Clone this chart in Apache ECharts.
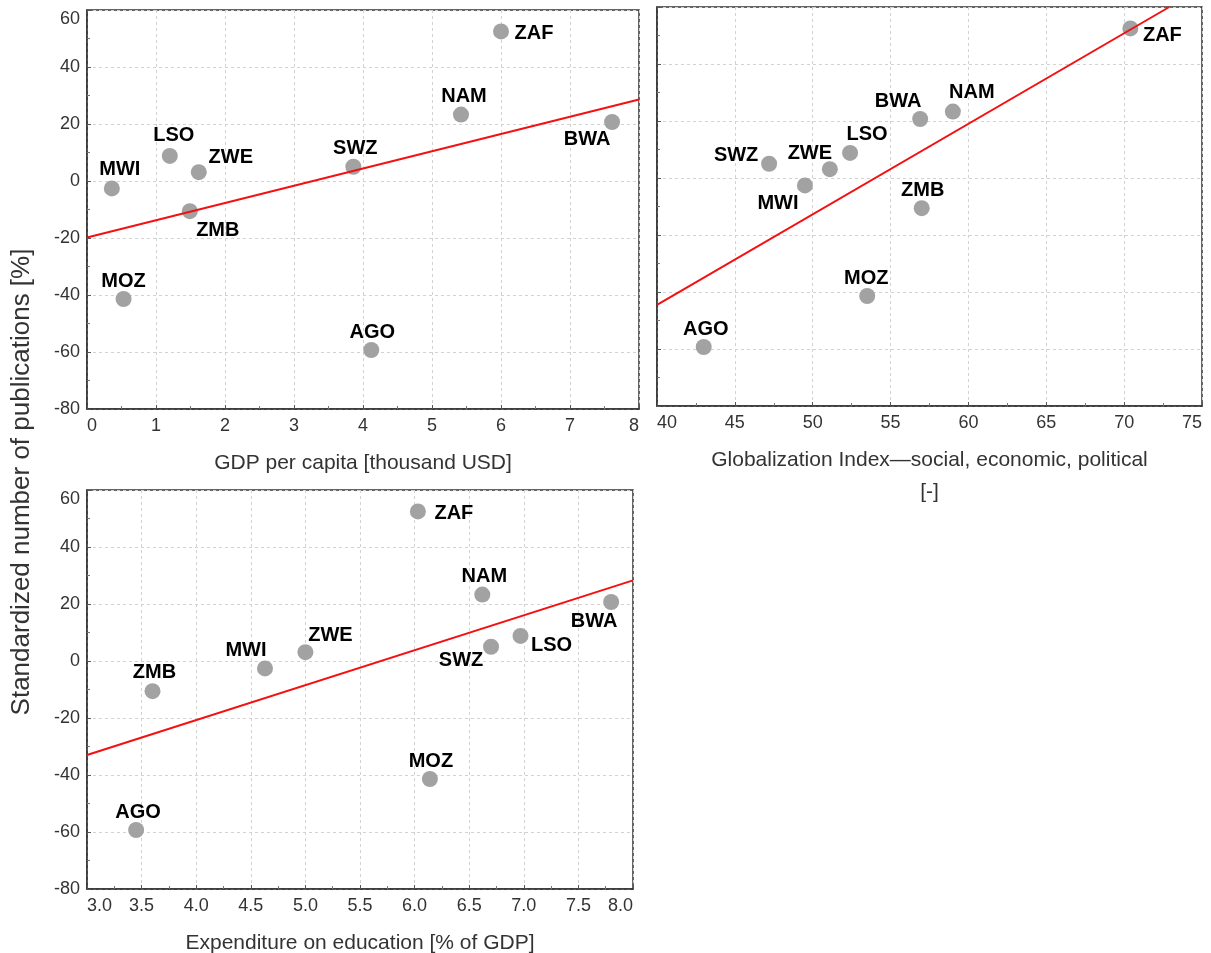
<!DOCTYPE html>
<html>
<head>
<meta charset="utf-8">
<title>Publications vs. development indicators</title>
<script src="https://cdn.jsdelivr.net/npm/echarts@6/dist/echarts.min.js"></script>
<style>
  html, body { margin: 0; padding: 0; background: #fff; }
  #chart { width: 1211px; height: 953px; }
</style>
</head>
<body>
<div id="chart"></div>
<script>
// data
const countries = ['ZAF', 'NAM', 'BWA', 'LSO', 'SWZ', 'ZWE', 'MWI', 'ZMB', 'MOZ', 'AGO']
const publications = [52.5, 23.3, 20.7, 8.8, 5.0, 3.1, -2.6, -10.6, -41.4, -59.3] // standardized [%]
const gdpPerCapita = [6.0, 5.42, 7.61, 1.2, 3.86, 1.62, 0.36, 1.49, 0.53, 4.12] // thousand USD
const globalization = [70.4, 59.0, 56.9, 52.4, 47.2, 51.1, 49.5, 57.0, 53.5, 43.0]
const eduExpenditure = [6.03, 6.62, 7.8, 6.97, 6.7, 5.0, 4.63, 3.6, 6.14, 3.45] // % of GDP

// regression lines (end points)
const fitGdp = [[0, -19.8], [8, 28.6]]
const fitGlob = [[40, -44.5], [72.9, 60]]
const fitEdu = [[3, -33], [8, 28.3]]

// label offsets around each point (px), per panel
const labelOffsetGdp = {
  ZAF: [33, 2], NAM: [3, -18], BWA: [-25, 17], SWZ: [2, -18], LSO: [4, -20],
  ZWE: [32, -15], MWI: [8, -19], ZMB: [28, 19], MOZ: [0, -18], AGO: [1, -18]
}
const labelOffsetGlob = {
  ZAF: [32, 7], NAM: [19, -19], BWA: [-22, -18], LSO: [17, -18], SWZ: [-33, -8],
  ZWE: [-20, -16], MWI: [-27, 18], ZMB: [1, -18], MOZ: [-1, -18], AGO: [2, -18]
}
const labelOffsetEdu = {
  ZAF: [36, 2], NAM: [2, -18], BWA: [-17, 19], LSO: [31, 10], SWZ: [-30, 14],
  ZWE: [25, -17], MWI: [-19, -18], ZMB: [2, -19], MOZ: [1, -18], AGO: [2, -18]
}

const FONT = '"Liberation Sans", Arial, sans-serif'
const TEXT = '#333'

const chart = echarts.init(document.getElementById('chart'), null, { renderer: 'canvas' })

function pointData(xs, offsets) {
  return countries.map((c, i) => ({
    name: c,
    value: [xs[i], publications[i]],
    label: { offset: offsets[c] }
  }))
}

function xAxisFor(idx, min, max, interval, name, fmt) {
  return {
    gridIndex: idx,
    type: 'value',
    min: min,
    max: max,
    interval: interval,
    name: name,
    nameLocation: 'middle',
    nameGap: 38,
    nameTextStyle: { color: TEXT, fontSize: 21, fontFamily: FONT, lineHeight: 32 },
    axisLine: { show: true, onZero: false, lineStyle: { color: '#333', width: 1.5 } },
    axisTick: { show: true, inside: true, length: 4, lineStyle: { color: '#555' } },
    minorTick: { show: true, splitNumber: 2, length: 3, lineStyle: { color: '#777' } },
    splitLine: { show: true, lineStyle: { color: '#d2d2d2', type: [3, 3], width: 1 } },
    axisLabel: {
      color: TEXT, fontSize: 18, fontFamily: FONT, margin: 8,
      alignMinLabel: 'left', alignMaxLabel: 'right',
      formatter: fmt
    }
  }
}

function yAxisFor(idx, showLabels) {
  return {
    gridIndex: idx,
    type: 'value',
    min: -80,
    max: 60,
    interval: 20,
    axisLine: { show: true, onZero: false, lineStyle: { color: '#333', width: 1.5 } },
    axisTick: { show: true, inside: true, length: 4, lineStyle: { color: '#555' } },
    minorTick: { show: true, splitNumber: 2, length: 3, lineStyle: { color: '#777' } },
    splitLine: { show: true, lineStyle: { color: '#d2d2d2', type: [3, 3], width: 1 } },
    axisLabel: {
      show: showLabels, color: TEXT, fontSize: 18, fontFamily: FONT, margin: 7,
      verticalAlignMaxLabel: 'top'
    }
  }
}

function scatterSeries(idx, xs, offsets) {
  return {
    type: 'scatter',
    xAxisIndex: idx,
    yAxisIndex: idx,
    symbolSize: 16,
    itemStyle: { color: '#a2a2a2', opacity: 1 },
    z: 2,
    label: {
      show: true,
      position: 'inside',
      formatter: '{b}',
      color: '#000',
      fontWeight: 'bold',
      fontSize: 20,
      fontFamily: FONT
    },
    data: pointData(xs, offsets)
  }
}

function fitSeries(idx, pts) {
  return {
    type: 'line',
    xAxisIndex: idx,
    yAxisIndex: idx,
    data: pts,
    symbol: 'none',
    silent: true,
    clip: true,
    z: 3,
    lineStyle: { color: '#f41010', width: 2 }
  }
}

const gridBase = { show: true, borderColor: '#333', borderWidth: 1.5, backgroundColor: 'transparent', containLabel: false, outerBoundsMode: 'none' }

chart.setOption({
  animation: false,
  backgroundColor: '#fff',
  textStyle: { fontFamily: FONT },
  grid: [
    Object.assign({ left: 87, top: 10, width: 552, height: 399 }, gridBase),
    Object.assign({ left: 657, top: 7, width: 545, height: 399 }, gridBase),
    Object.assign({ left: 87, top: 490, width: 546, height: 399 }, gridBase)
  ],
  xAxis: [
    xAxisFor(0, 0, 8, 1, 'GDP per capita [thousand USD]'),
    xAxisFor(1, 40, 75, 5, 'Globalization Index\u2014social, economic, political\n[-]'),
    xAxisFor(2, 3, 8, 0.5, 'Expenditure on education [% of GDP]', v => v.toFixed(1))
  ],
  yAxis: [
    yAxisFor(0, true),
    yAxisFor(1, false),
    yAxisFor(2, true)
  ],
  graphic: [{
    type: 'text',
    x: 22,
    y: 482,
    rotation: Math.PI / 2,
    style: {
      text: 'Standardized number of publications [%]',
      fill: TEXT,
      font: '26px ' + FONT,
      textAlign: 'center',
      textVerticalAlign: 'middle'
    }
  }],
  series: [
    scatterSeries(0, gdpPerCapita, labelOffsetGdp),
    fitSeries(0, fitGdp),
    scatterSeries(1, globalization, labelOffsetGlob),
    fitSeries(1, fitGlob),
    scatterSeries(2, eduExpenditure, labelOffsetEdu),
    fitSeries(2, fitEdu)
  ]
})
</script>
</body>
</html>
